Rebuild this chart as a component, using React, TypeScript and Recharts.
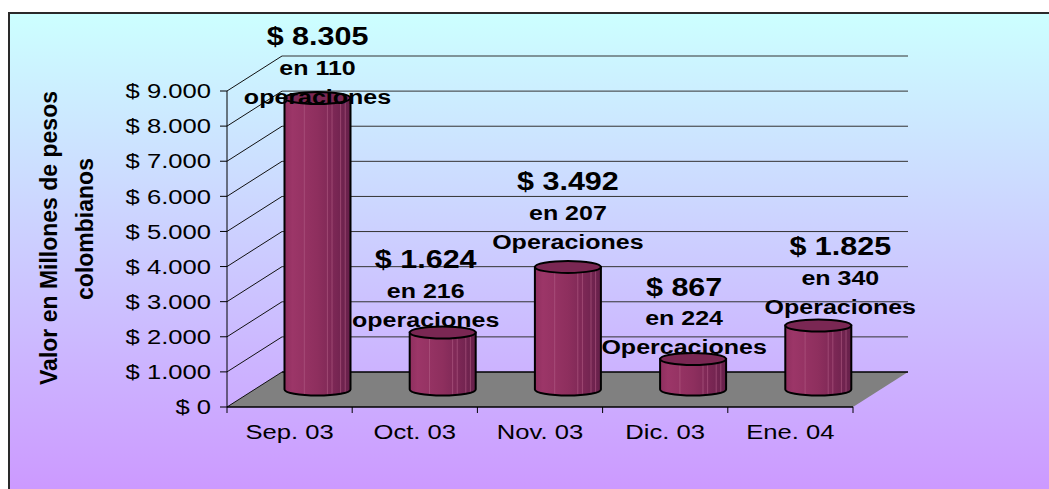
import React from 'react';
import { BarChart, Bar, XAxis, YAxis, CartesianGrid, LabelList } from 'recharts';

// ---- data ----
const categories = ['Sep. 03', 'Oct. 03', 'Nov. 03', 'Dic. 03', 'Ene. 04'];
const values = [8305, 1624, 3492, 867, 1825];
const valueLabels = ['$ 8.305', '$ 1.624', '$ 3.492', '$ 867', '$ 1.825'];
const operations = ['en 110', 'en 216', 'en 207', 'en 224', 'en 340'];
const operationWords = ['operaciones', 'operaciones', 'Operaciones', 'Opercaciones', 'Operaciones'];
const yTicks = [0, 1000, 2000, 3000, 4000, 5000, 6000, 7000, 8000, 9000];
const yTickLabels = ['$ 0', '$ 1.000', '$ 2.000', '$ 3.000', '$ 4.000', '$ 5.000', '$ 6.000', '$ 7.000', '$ 8.000', '$ 9.000'];
const titleLines = ['Valor en Millones de pesos', 'colombianos'];

const data = categories.map((c, i) => ({
  category: c,
  value: values[i],
  label: valueLabels[i],
  ops: operations[i],
  word: operationWords[i],
}));

// ---- layout ----
const W = 1049;
const H = 489;
const PLOT_LEFT = 227;
const PLOT_RIGHT = 853;
const PLOT_TOP = 91;
const PLOT_BOTTOM = 407;
const X_AXIS_H = 30;
const DEPTH_X = 55;
const DEPTH_Y = -35;
const STRETCH = 1.22;
const FONT = '"Liberation Sans", Arial, sans-serif';
const LABEL_NUDGE = [
  { dx: 0, dy: 15 },
  { dx: -17, dy: 3 },
  { dx: 0, dy: -9 },
  { dx: -9, dy: 4 },
  { dx: 22, dy: -3 },
];

const SText = (p: { x: number; y: number; anchor: string; size: number; bold?: boolean; children: any }) => (
  <text
    transform={`translate(${p.x},${p.y}) scale(${STRETCH},1)`}
    x={0}
    y={0}
    textAnchor={p.anchor}
    dominantBaseline="central"
    fontFamily={FONT}
    fontSize={p.size}
    fontWeight={p.bold ? 'bold' : 'normal'}
    fill="#000"
  >
    {p.children}
  </text>
);

const GridLine = (props: any) => {
  const { x1, x2, y1 } = props;
  const isFloor = Math.abs(y1 - PLOT_BOTTOM) < 1.5;
  return (
    <g key={props.key}>
      {isFloor && (
        <polygon
          points={`${x1},${y1} ${x1 + DEPTH_X},${y1 + DEPTH_Y} ${x2 + DEPTH_X},${y1 + DEPTH_Y} ${x2},${y1}`}
          fill="#808080"
        />
      )}
      <line x1={x1} y1={y1} x2={x1 + DEPTH_X} y2={y1 + DEPTH_Y} stroke="#111" strokeWidth={1} />
      <line x1={x1 + DEPTH_X} y1={y1 + DEPTH_Y} x2={x2 + DEPTH_X} y2={y1 + DEPTH_Y} stroke={isFloor ? '#000' : '#333'} strokeWidth={isFloor ? 1.5 : 1} />
    </g>
  );
};

const Cylinder = (props: any) => {
  const { x, y, width, height } = props;
  if (width == null || height == null) return null;
  const cx = x + width / 2 + DEPTH_X / 2;
  const rx = width / 2;
  const ry = 6;
  const top = y + DEPTH_Y / 2;
  const base = y + height + DEPTH_Y / 2;
  const l = cx - rx;
  const r = cx + rx;
  const body = `M${l},${top} L${l},${base} A${rx},${ry} 0 0 0 ${r},${base} L${r},${top} Z`;
  const stripes = [0.3, 0.65, 0.72, 0.85, 0.92];
  return (
    <g>
      <path d={body} fill="url(#cylGrad)" stroke="none" />
      {stripes.map((t, i) => {
        const sx = l + t * width;
        const u = (sx - cx) / rx;
        const yb = base + ry * Math.sqrt(Math.max(0, 1 - u * u));
        return <line key={i} x1={sx} y1={top} x2={sx} y2={yb} stroke="#b35d86" strokeOpacity={0.6} strokeWidth={1} />;
      })}
      <path d={body} fill="none" stroke="#000" strokeWidth={2} />
      <ellipse cx={cx} cy={top} rx={rx} ry={ry} fill="#7a2753" stroke="#000" strokeWidth={2} />
    </g>
  );
};

const BarLabel = (props: any) => {
  const { x, y, width, index } = props;
  if (x == null || index == null) return null;
  const d = data[index];
  const n = LABEL_NUDGE[index] || { dx: 0, dy: 0 };
  const cx = x + width / 2 + DEPTH_X / 2 + n.dx;
  const top = y + DEPTH_Y / 2 + n.dy;
  return (
    <g>
      <SText x={cx} y={top - 76} anchor="middle" size={25} bold>{d.label}</SText>
      <SText x={cx} y={top - 45} anchor="middle" size={20.5} bold>{d.ops}</SText>
      <SText x={cx} y={top - 16} anchor="middle" size={20.5} bold>{d.word}</SText>
    </g>
  );
};

const XTick = (props: any) => {
  const { x, payload, index } = props;
  const bw = (PLOT_RIGHT - PLOT_LEFT) / categories.length;
  return (
    <g>
      <line x1={x - bw / 2} y1={PLOT_BOTTOM} x2={x - bw / 2} y2={PLOT_BOTTOM + 6} stroke="#000" />
      {index === categories.length - 1 && (
        <line x1={x + bw / 2} y1={PLOT_BOTTOM} x2={x + bw / 2} y2={PLOT_BOTTOM + 6} stroke="#000" />
      )}
      <SText x={x} y={PLOT_BOTTOM + 25} anchor="middle" size={21}>{payload.value}</SText>
    </g>
  );
};

const YTick = (props: any) => {
  const { y, payload } = props;
  const i = yTicks.indexOf(payload.value);
  return (
    <SText x={PLOT_LEFT - 16} y={y} anchor="end" size={21}>{yTickLabels[i]}</SText>
  );
};

const YTitle = () => (
  <g fontFamily={FONT} fontWeight="bold" fontSize={23} fill="#000">
    <text transform="translate(49,238) rotate(-90)" textAnchor="middle" dominantBaseline="central">{titleLines[0]}</text>
    <text transform="translate(85,229) rotate(-90)" textAnchor="middle" dominantBaseline="central">{titleLines[1]}</text>
  </g>
);

export default function App() {
  return (
    <div style={{ position: 'absolute', left: 0, top: 0, width: W, height: H, overflow: 'hidden', background: '#fff' }}>
      <div
        style={{
          position: 'absolute',
          left: 8,
          top: 12,
          width: W + 20,
          height: H + 20,
          boxSizing: 'border-box',
          borderLeft: '2px solid #2a2a2a',
          borderTop: '2px solid #2a2a2a',
          background: 'linear-gradient(to bottom, #ccffff 0px, #cc99ff 477px)',
        }}
      />
      <div style={{ position: 'absolute', left: 0, top: 0 }}>
        <BarChart
          width={W}
          height={H}
          data={data}
          margin={{ top: PLOT_TOP, right: W - PLOT_RIGHT, bottom: H - PLOT_BOTTOM - X_AXIS_H, left: 8 }}
          barSize={66}
        >
          <defs>
            <linearGradient id="cylGrad" x1="0" y1="0" x2="1" y2="0">
              <stop offset="0" stopColor="#8f2f5f" />
              <stop offset="0.12" stopColor="#9c3668" />
              <stop offset="0.5" stopColor="#8e2f5e" />
              <stop offset="0.72" stopColor="#7e2856" />
              <stop offset="1" stopColor="#66204a" />
            </linearGradient>
          </defs>
          <CartesianGrid horizontal={GridLine} vertical={false} />
          <XAxis
            dataKey="category"
            height={X_AXIS_H}
            axisLine={{ stroke: '#000', strokeWidth: 1.5 }}
            tickLine={false}
            tick={XTick}
            interval={0}
          />
          <YAxis
            type="number"
            domain={[0, 9000]}
            ticks={yTicks}
            interval={0}
            width={PLOT_LEFT - 8}
            tickSize={7}
            axisLine={{ stroke: '#000' }}
            tickLine={{ stroke: '#000' }}
            tick={YTick}
            label={{ content: YTitle }}
          />
          <Bar dataKey="value" shape={Cylinder} isAnimationActive={false}>
            <LabelList dataKey="value" content={BarLabel} />
          </Bar>
        </BarChart>
      </div>
    </div>
  );
}
